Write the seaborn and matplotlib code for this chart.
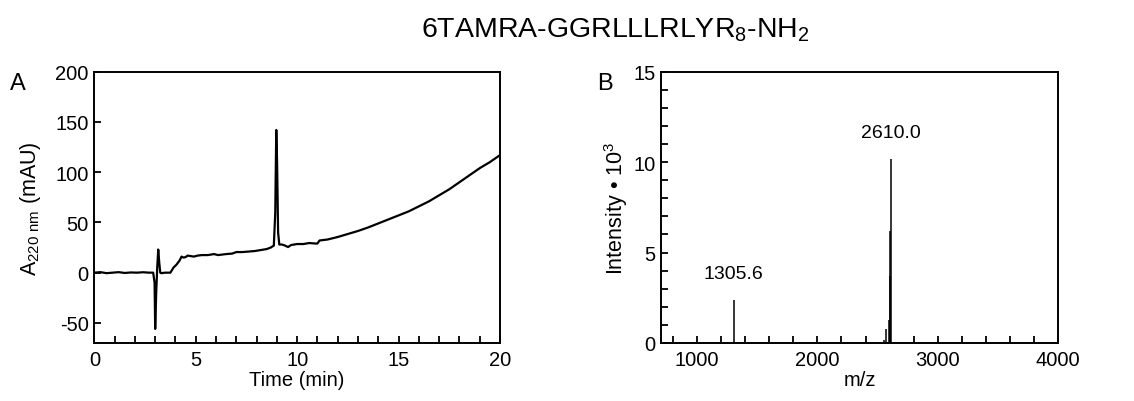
import matplotlib
matplotlib.use("Agg")
import matplotlib.pyplot as plt
from matplotlib.ticker import MultipleLocator
import seaborn as sns
import pandas as pd

# HPLC trace (absorbance at 220 nm)
time_min = [0, 0.3, 0.6, 0.9, 1.2, 1.5, 1.8, 2.1, 2.4, 2.7, 2.9, 2.97, 3.0, 3.05,
            3.1, 3.15, 3.2, 3.25, 3.3, 3.5, 3.75, 3.9, 4.05, 4.2, 4.3, 4.4, 4.5,
            4.6, 4.75, 4.9, 5.1, 5.3, 5.6, 5.9, 6.1, 6.3, 6.5, 6.8, 7.0, 7.3, 7.6,
            7.9, 8.2, 8.5, 8.7, 8.85, 8.92, 8.97, 9.01, 9.06, 9.12, 9.25, 9.4,
            9.55, 9.7, 9.85, 10.0, 10.3, 10.6, 10.9, 11.0, 11.1, 11.5, 12.0, 12.5,
            13.0, 13.5, 14.0, 14.5, 15.0, 15.5, 16.0, 16.5, 17.0, 17.5, 18.0,
            18.5, 19.0, 19.5, 20.0]
absorbance = [0, 0.5, -0.5, 0, 0.5, -0.3, 0.2, 0, 0.4, 0, 0, -10, -56, -20,
              5, 23, 10, 0, -0.5, 0, 0, 5, 8, 12, 16, 15, 15.5,
              17, 16.5, 16, 17, 17.5, 17.5, 18.5, 17.5, 18, 18.5, 19, 20.5, 20.5, 21,
              21.5, 22.5, 23.5, 25, 27, 60, 142, 110, 40, 28, 28, 27,
              25.5, 27.5, 28, 28.5, 28.5, 29.5, 29, 29, 32, 33, 35.5, 38.5,
              41.5, 45, 49, 53, 57, 61, 66, 71, 77, 83, 90,
              97, 104, 110, 117]

# Mass spectrum peaks (intensity in units of 10^3)
mz = [1305.6, 2553, 2572, 2592, 2603, 2607, 2610.0]
intensity = [2.35, 0.15, 0.8, 1.25, 3.7, 6.2, 10.15]
labelled_peaks = [1305.6, 2610.0]

title = "6TAMRA-GGRLLLRLYR$_8$-NH$_2$"

sns.set_style("ticks")
plt.rcParams["font.family"] = ["Liberation Sans", "DejaVu Sans"]
plt.rcParams["mathtext.fontset"] = "custom"
plt.rcParams["mathtext.rm"] = "Liberation Sans"
plt.rcParams["mathtext.default"] = "regular"
plt.rcParams["axes.unicode_minus"] = False
for key in ("text.color", "axes.labelcolor", "xtick.color", "ytick.color"):
    plt.rcParams[key] = "black"

fig = plt.figure(figsize=(11.34, 4.02), dpi=100)
axA = fig.add_axes([0.0832, 0.1443, 0.3577, 0.6748])
axB = fig.add_axes([0.5829, 0.1443, 0.3501, 0.6748])

fs = 14.5
for ax in (axA, axB):
    for s in ax.spines.values():
        s.set_linewidth(1.4)
        s.set_color("black")
    ax.tick_params(which="both", direction="in", length=5, width=1.3,
                   top=False, right=False, labelsize=fs)
    ax.tick_params(axis="x", which="both", pad=5)
    ax.tick_params(axis="y", which="both", pad=4)

# Panel A: chromatogram
hplc = pd.DataFrame({"t": time_min, "A": absorbance})
sns.lineplot(data=hplc, x="t", y="A", ax=axA, color="black", linewidth=1.6,
             sort=False, estimator=None)
axA.set_xlim(0, 20)
axA.set_ylim(-70, 200)
axA.xaxis.set_major_locator(MultipleLocator(5))
axA.xaxis.set_minor_locator(MultipleLocator(1))
axA.yaxis.set_major_locator(MultipleLocator(50))
axA.set_xlabel("Time (min)", fontsize=fs, labelpad=1)
axA.set_ylabel("A$_{220\\ nm}$ (mAU)", fontsize=15.5, labelpad=9)

# Panel B: mass spectrum as stick plot
ms = pd.DataFrame({"mz": mz, "I": intensity})
axB.vlines(ms["mz"], 0, ms["I"], color="black", linewidth=1.1)
sns.lineplot(x=[700, 4000], y=[0, 0], ax=axB, color="black", linewidth=1.0)
for m in labelled_peaks:
    h = ms.loc[ms["mz"] == m, "I"].iloc[0]
    axB.text(m, h + 1.0, f"{m:.1f}", ha="center", va="bottom", fontsize=14)
axB.set_xlim(700, 4000)
axB.set_ylim(0, 15)
axB.xaxis.set_major_locator(MultipleLocator(1000))
axB.xaxis.set_minor_locator(MultipleLocator(200))
axB.yaxis.set_major_locator(MultipleLocator(5))
axB.yaxis.set_minor_locator(MultipleLocator(1))
axB.set_xlabel("m/z", fontsize=fs, labelpad=1)
axB.set_ylabel("Intensity • 10$^3$", fontsize=15.5, labelpad=2)

fig.text(0.543, 0.9055, title, ha="center", va="baseline", fontsize=20.5)
fig.text(0.0088, 0.776, "A", fontsize=17, ha="left", va="baseline")
fig.text(0.527, 0.776, "B", fontsize=17, ha="left", va="baseline")

fig.savefig("out.png", dpi=100, facecolor="white")
